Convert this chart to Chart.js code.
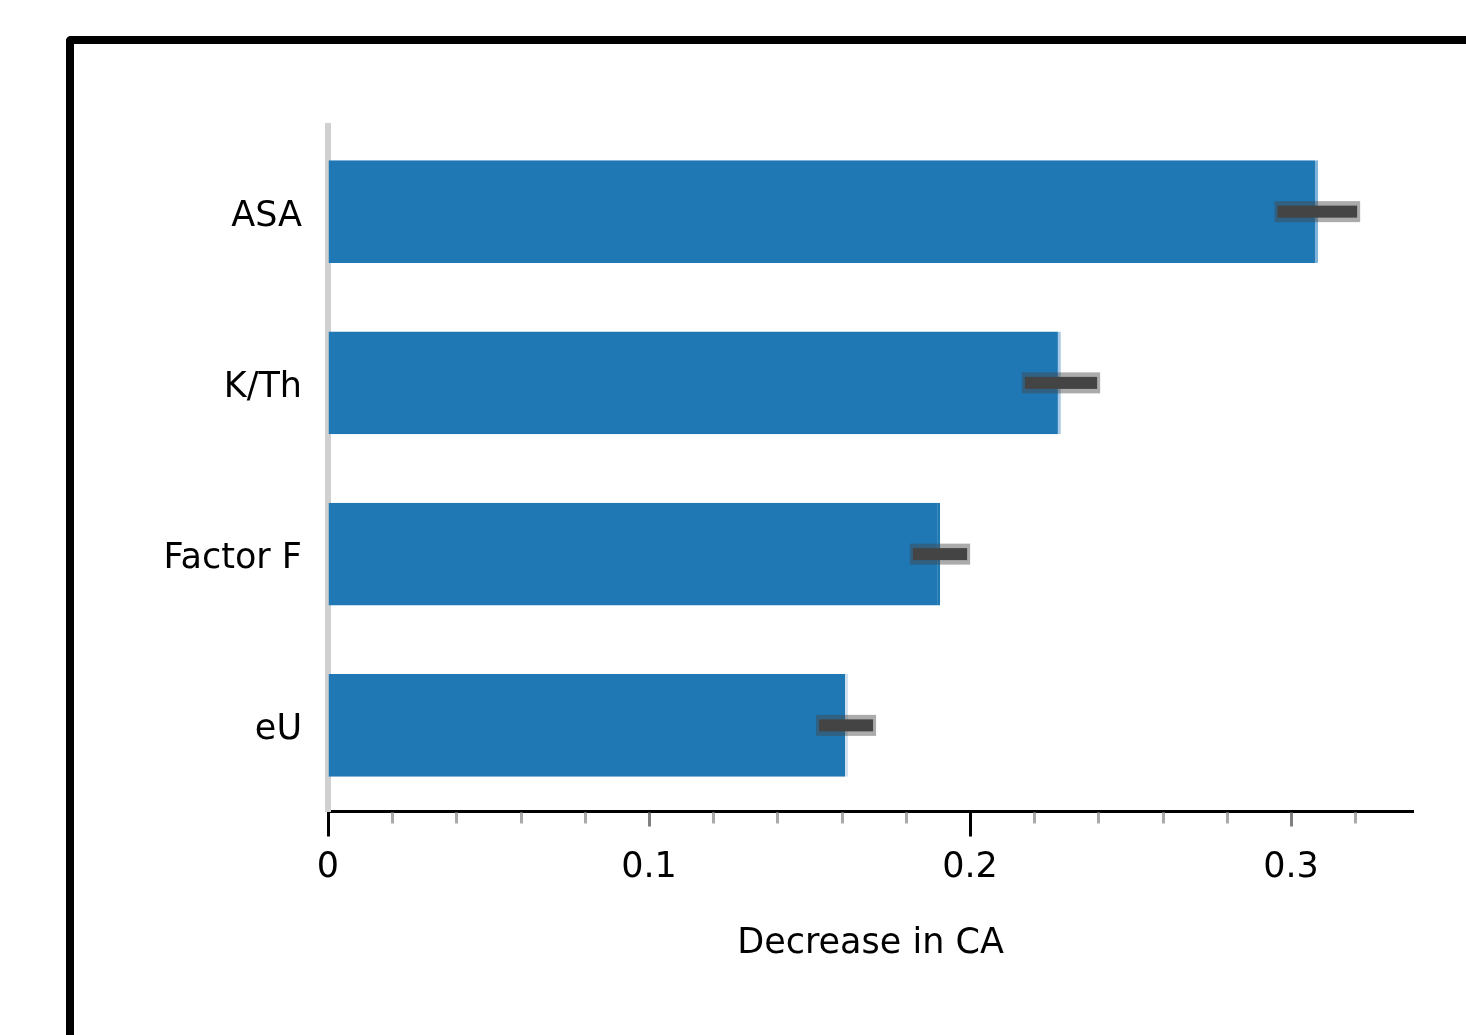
<!DOCTYPE html>
<html>
<head>
<meta charset="utf-8">
<script src="https://cdn.jsdelivr.net/npm/chart.js@4/dist/chart.umd.min.js"></script>
<style>
  html, body { margin: 0; padding: 0; background: #ffffff; overflow: hidden; }
  body { width: 1466px; height: 1035px; position: relative; }
  #frame {
    position: absolute; left: 66px; top: 36px; width: 1500px; height: 1100px;
    border-left: 8px solid #000; border-top: 8px solid #000;
    border-top-left-radius: 5px; box-sizing: border-box;
  }
  #chart { position: absolute; left: 0; top: 0; }
</style>
</head>
<body>
<div id="frame"></div>
<canvas id="chart" width="1466" height="1035"></canvas>
<script>
// Mean decrease in CA per feature, with the spread shown as an error bar
const categories = ['ASA', 'K/Th', 'Factor F', 'eU'];
const decrease   = [0.3084, 0.2283, 0.1907, 0.1620];
const errLow     = [0.2958, 0.2171, 0.1822, 0.1530];
const errHigh    = [0.3206, 0.2396, 0.1991, 0.1698];

// Axis ticks
const xTickValues = [0, 0.1, 0.2, 0.3];
const xTickLabels = ['0', '0.1', '0.2', '0.3'];
const xMinorStep = 0.02;
const xMax = 0.338;

const FONT = "'DejaVu Sans', Verdana, sans-serif";

// Thick dark error bars drawn across each bar end
const errorBars = {
  id: 'errorBars',
  afterDatasetsDraw(chart) {
    const { ctx, scales: { x } } = chart;
    const meta = chart.getDatasetMeta(0);
    ctx.save();
    meta.data.forEach((bar, i) => {
      const x0 = x.getPixelForValue(errLow[i]);
      const x1 = x.getPixelForValue(errHigh[i]);
      const y = bar.y;
      ctx.fillStyle = 'rgba(68,68,68,0.45)';
      ctx.fillRect(x0 - 3, y - 10.5, x1 - x0 + 6, 21);
      ctx.fillStyle = '#444444';
      ctx.fillRect(x0, y - 6, x1 - x0, 12);
    });
    ctx.restore();
  }
};

// Tick marks under the x axis: short minor ticks, longer ones at labelled values
const xTickMarks = {
  id: 'xTickMarks',
  afterDraw(chart) {
    const { ctx, scales: { x }, chartArea } = chart;
    const y0 = chartArea.bottom + 1.5;
    ctx.save();
    ctx.lineWidth = 3;
    const n = Math.floor(xMax / xMinorStep + 1e-9);
    for (let k = 1; k <= n; k++) {
      if (k % 5 === 0) continue;
      const px = Math.round(x.getPixelForValue(k * xMinorStep)) + 0.5;
      ctx.strokeStyle = '#aaaaaa';
      ctx.beginPath(); ctx.moveTo(px, y0); ctx.lineTo(px, y0 + 11); ctx.stroke();
    }
    xTickValues.forEach((v, i) => {
      const px = Math.round(x.getPixelForValue(v)) + 0.5;
      ctx.strokeStyle = i % 2 === 0 ? '#000000' : '#808080';
      ctx.beginPath(); ctx.moveTo(px, y0); ctx.lineTo(px, y0 + (i % 2 === 0 ? 24 : 14)); ctx.stroke();
    });
    ctx.restore();
  }
};

new Chart(document.getElementById('chart'), {
  type: 'bar',
  data: {
    labels: categories,
    datasets: [{
      data: decrease,
      backgroundColor: '#1f77b4',
      borderColor: ['#80b3d9', '#a6c8e4', '#1f77b4', '#d2e3ef'],
      borderWidth: { right: 3, left: 0, top: 0, bottom: 0 },
      borderSkipped: false,
      barPercentage: 0.6,
      categoryPercentage: 1.0
    }]
  },
  options: {
    indexAxis: 'y',
    responsive: false,
    animation: false,
    devicePixelRatio: 1,
    layout: { padding: { top: 126, right: 53, bottom: 24, left: 0 } },
    plugins: {
      legend: { display: false },
      tooltip: { enabled: false }
    },
    scales: {
      x: {
        type: 'linear',
        min: 0,
        max: xMax,
        afterBuildTicks(scale) { scale.ticks = xTickValues.map(v => ({ value: v })); },
        afterFit(scale) { scale.height = 200; },
        grid: { display: true, drawOnChartArea: false, drawTicks: false },
        border: { display: true, color: '#000000', width: 3 },
        ticks: {
          padding: 36,
          color: '#000000',
          font: { family: FONT, size: 35 },
          maxRotation: 0,
          autoSkip: false,
          callback(value, index) { return xTickLabels[index]; }
        },
        title: {
          display: true,
          text: 'Decrease in CA',
          color: '#000000',
          font: { family: FONT, size: 35 },
          padding: { top: 0, bottom: 46 }
        }
      },
      y: {
        afterFit(scale) { scale.width = 328; },
        grid: { display: true, drawOnChartArea: false, drawTicks: false },
        border: { display: true, color: '#d0d0d0', width: 6 },
        ticks: {
          padding: 26,
          labelOffset: 5,
          color: '#000000',
          font: { family: FONT, size: 35 }
        }
      }
    }
  },
  plugins: [errorBars, xTickMarks]
});
</script>
</body>
</html>
